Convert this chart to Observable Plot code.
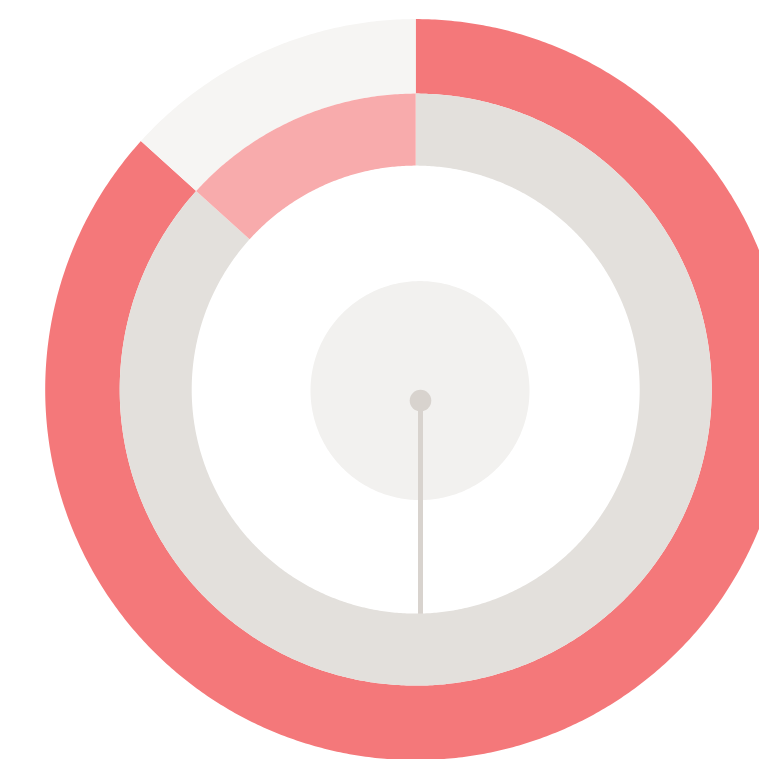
<!DOCTYPE html>
<html>
<head>
<meta charset="utf-8">
<script src="https://cdn.jsdelivr.net/npm/d3@7"></script>
<script src="https://cdn.jsdelivr.net/npm/@observablehq/plot@0.6"></script>
<style>
  html, body { margin: 0; padding: 0; background: #ffffff; }
  #chart svg { display: block; }
</style>
</head>
<body>
<div id="chart"></div>
<script>
// ---- data ----
const segments = ["Value", "Remainder"];
const outerShares = [0.867, 0.133];
const innerShares = [0.867, 0.133];
const needleValue = 0.5;

// ---- styling / layout ----
const outerColors = ["#f4787a", "#f6f5f3"];
const innerColors = ["#e3e0dc", "#f8abac"];
const W = 759, H = 759;
const cx = 415.7, cy = 389.6, R = 370.5;          // ring centre & outer radius (px)
const rings = [
  {name: "outer", r0: 296 / R, r1: 1, shares: outerShares, colors: outerColors},
  {name: "inner", r0: 224 / R, r1: 296 / R, shares: innerShares, colors: innerColors}
];
const hubR = 109.5 / R, hubDx = 4.3, hubDy = 1;
const pivotOffset = 10.5 / R, needleLen = 224 / R;

function arcRows() {
  const rows = [];
  for (const ring of rings) {
    let start = 0;
    ring.shares.forEach((s, i) => {
      const a0 = start, a1 = start + s;
      start = a1;
      const n = Math.max(2, Math.ceil((a1 - a0) * 720));
      for (let k = 0; k <= n; k++) {
        const t = a0 + (a1 - a0) * k / n;
        const th = 2 * Math.PI * t;
        rows.push({
          key: ring.name + "-" + segments[i],
          color: ring.colors[i],
          xi: Math.sin(th) * ring.r0, yi: Math.cos(th) * ring.r0,
          xo: Math.sin(th) * ring.r1, yo: Math.cos(th) * ring.r1
        });
      }
    });
  }
  return rows;
}

function discRows(r) {
  const rows = [];
  const n = 360;
  for (let k = 0; k <= n; k++) {
    const th = 2 * Math.PI * k / n;
    rows.push({xi: 0, yi: 0, xo: Math.sin(th) * r, yo: Math.cos(th) * r});
  }
  return rows;
}

const needleAngle = 2 * Math.PI * needleValue;

const chart = Plot.plot({
  width: W,
  height: H,
  margin: 0,
  x: {domain: [-1, 1], range: [cx - R, cx + R], axis: null},
  y: {domain: [-1, 1], range: [cy + R, cy - R], axis: null},
  color: {type: "identity"},
  marks: [
    Plot.area(discRows(hubR), {x1: "xi", y1: "yi", x2: "xo", y2: "yo", fill: "#f2f1ef", dx: hubDx, dy: hubDy, curve: "linear"}),
    Plot.link([needleValue], {
      x1: () => 0, y1: () => -pivotOffset,
      x2: () => Math.sin(needleAngle) * needleLen, y2: () => Math.cos(needleAngle) * needleLen,
      stroke: "#d8d3ce", strokeWidth: 5, dx: hubDx, strokeLinecap: "butt"
    }),
    Plot.dot([needleValue], {x: () => 0, y: () => -pivotOffset, r: 10.8, fill: "#d8d3ce", dx: hubDx}),
    Plot.area(arcRows(), {x1: "xi", y1: "yi", x2: "xo", y2: "yo", z: "key", fill: "color", curve: "linear"})
  ]
});
document.getElementById("chart").appendChild(chart);
</script>
</body>
</html>
